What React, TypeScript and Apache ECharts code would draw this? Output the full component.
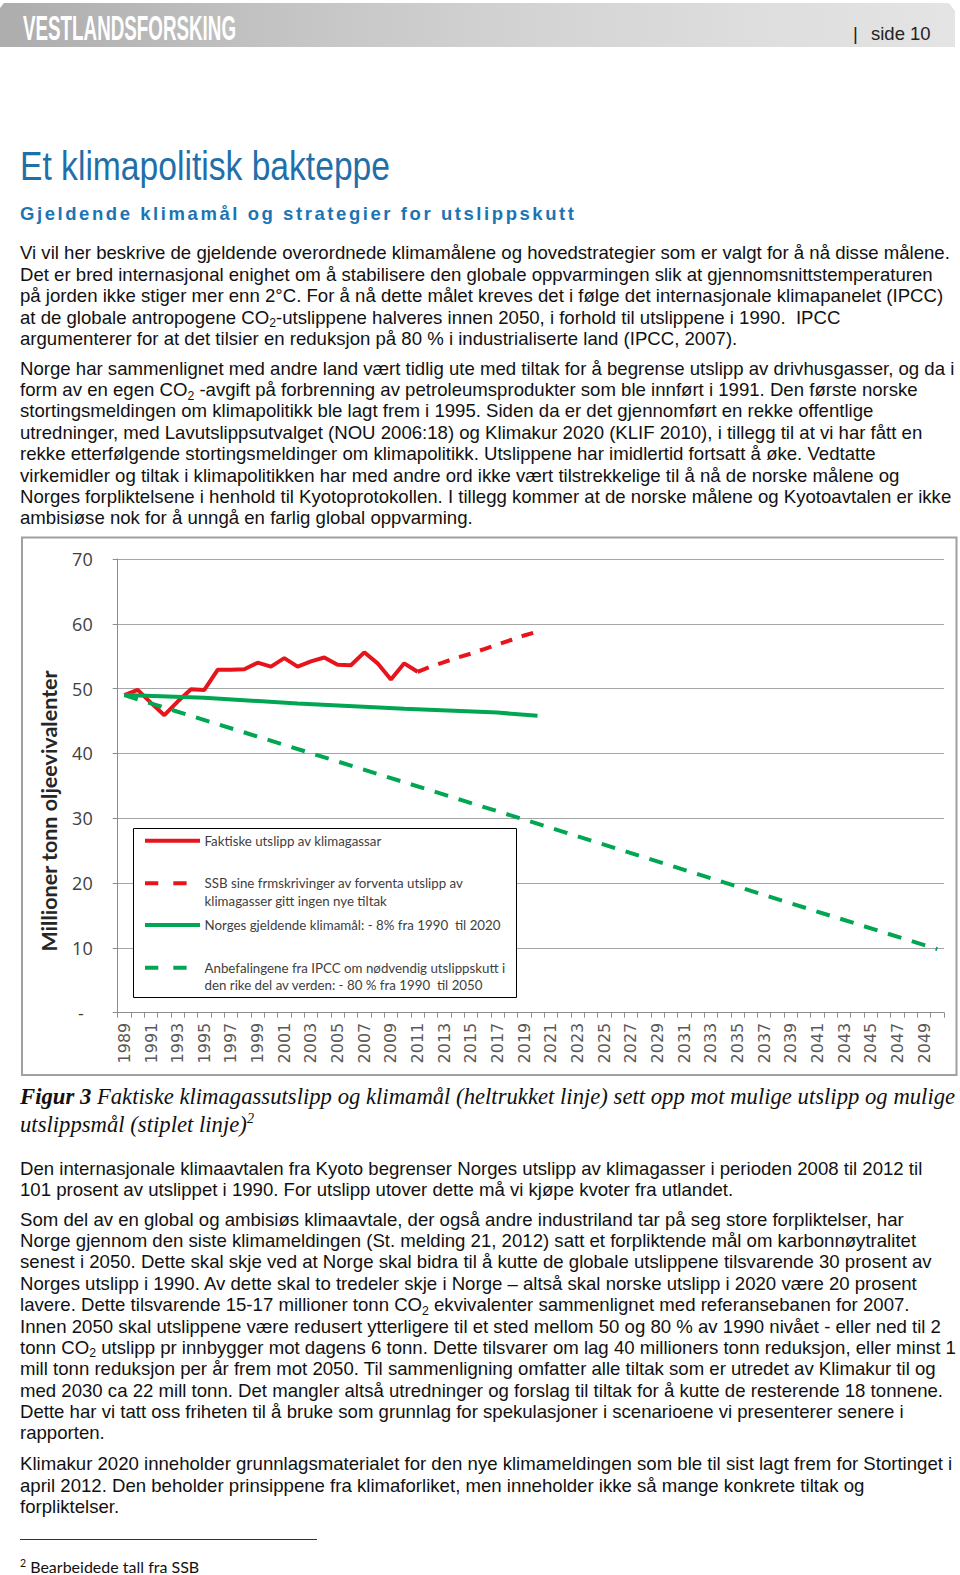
import React, { useEffect, useRef } from "react";
import * as echarts from "echarts";

// ---------- chart data ----------
const years = [
  "1989","1990","1991","1992","1993","1994","1995","1996","1997","1998",
  "1999","2000","2001","2002","2003","2004","2005","2006","2007","2008",
  "2009","2010","2011","2012","2013","2014","2015","2016","2017","2018",
  "2019","2020","2021","2022","2023","2024","2025","2026","2027","2028",
  "2029","2030","2031","2032","2033","2034","2035","2036","2037","2038",
  "2039","2040","2041","2042","2043","2044","2045","2046","2047","2048",
  "2049","2050",
];
// Faktiske utslipp 1989–2011
const actualYears = [
  "1989","1990","1991","1992","1993","1994","1995","1996","1997","1998",
  "1999","2000","2001","2002","2003","2004","2005","2006","2007","2008",
  "2009","2010","2011",
];
const actualValues = [
  49.0, 49.8, 47.8, 45.9, 48.0, 49.9, 49.8, 52.9, 52.9, 53.0,
  54.0, 53.4, 54.7, 53.4, 54.2, 54.8, 53.7, 53.6, 55.6, 53.9,
  51.4, 53.9, 52.6,
];
// SSB framskriving 2011–2020
const ssbYears = ["2011","2012","2013","2014","2015","2016","2017","2018","2019","2020"];
const ssbValues = [52.6, 53.4, 54.1, 54.8, 55.4, 56.1, 56.8, 57.5, 58.2, 58.8];
// Norges gjeldende klimamål
const targetYears = ["1989","1995","2002","2010","2017","2020"];
const targetValues = [49.0, 48.6, 47.7, 46.9, 46.3, 45.8];
// IPCC-anbefaling
const ipccYears = ["1989","2019","2034","2050"];
const ipccValues = [49.0, 29.8, 20.1, 9.8];

const yTicks = { min: 0, max: 70, interval: 10 };

const legendLabels = [
  ["Faktiske utslipp av klimagassar"],
  ["SSB sine frmskrivinger av forventa utslipp av", "klimagasser gitt ingen nye tiltak"],
  ["Norges gjeldende klimamål: - 8% fra 1990  til 2020"],
  ["Anbefalingene fra IPCC om nødvendig utslippskutt i", "den rike del av verden: - 80 % fra 1990  til 2050"],
];
const yAxisTitle = "Millioner tonn oljeevivalenter";

const RED = "#e8141c";
const GREEN = "#00a651";

function toSeries(ys: string[], vs: number[]) {
  return years.map((y) => {
    const i = ys.indexOf(y);
    return i >= 0 ? vs[i] : null;
  });
}

// ---------- page text ----------
const P1 = [
  "Vi vil her beskrive de gjeldende overordnede klimamålene og hovedstrategier som er valgt for å nå disse målene.",
  "Det er bred internasjonal enighet om å stabilisere den globale oppvarmingen slik at gjennomsnittstemperaturen",
  "på jorden ikke stiger mer enn 2°C. For å nå dette målet kreves det i følge det internasjonale klimapanelet (IPCC)",
  "at de globale antropogene CO2-utslippene halveres innen 2050, i forhold til utslippene i 1990.  IPCC",
  "argumenterer for at det tilsier en reduksjon på 80 % i industrialiserte land (IPCC, 2007).",
];
const P2 = [
  "Norge har sammenlignet med andre land vært tidlig ute med tiltak for å begrense utslipp av drivhusgasser, og da i",
  "form av en egen CO2 -avgift på forbrenning av petroleumsprodukter som ble innført i 1991. Den første norske",
  "stortingsmeldingen om klimapolitikk ble lagt frem i 1995. Siden da er det gjennomført en rekke offentlige",
  "utredninger, med Lavutslippsutvalget (NOU 2006:18) og Klimakur 2020 (KLIF 2010), i tillegg til at vi har fått en",
  "rekke etterfølgende stortingsmeldinger om klimapolitikk. Utslippene har imidlertid fortsatt å øke. Vedtatte",
  "virkemidler og tiltak i klimapolitikken har med andre ord ikke vært tilstrekkelige til å nå de norske målene og",
  "Norges forpliktelsene i henhold til Kyotoprotokollen. I tillegg kommer at de norske målene og Kyotoavtalen er ikke",
  "ambisiøse nok for å unngå en farlig global oppvarming.",
];
const P3 = [
  "Den internasjonale klimaavtalen fra Kyoto begrenser Norges utslipp av klimagasser i perioden 2008 til 2012 til",
  "101 prosent av utslippet i 1990. For utslipp utover dette må vi kjøpe kvoter fra utlandet.",
];
const P4 = [
  "Som del av en global og ambisiøs klimaavtale, der også andre industriland tar på seg store forpliktelser, har",
  "Norge gjennom den siste klimameldingen (St. melding 21, 2012) satt et forpliktende mål om karbonnøytralitet",
  "senest i 2050. Dette skal skje ved at Norge skal bidra til å kutte de globale utslippene tilsvarende 30 prosent av",
  "Norges utslipp i 1990. Av dette skal to tredeler skje i Norge – altså skal norske utslipp i 2020 være 20 prosent",
  "lavere. Dette tilsvarende 15-17 millioner tonn CO2 ekvivalenter sammenlignet med referansebanen for 2007.",
  "Innen 2050 skal utslippene være redusert ytterligere til et sted mellom 50 og 80 % av 1990 nivået - eller ned til 2",
  "tonn CO2 utslipp pr innbygger mot dagens 6 tonn. Dette tilsvarer om lag 40 millioners tonn reduksjon, eller minst 1",
  "mill tonn reduksjon per år frem mot 2050. Til sammenligning omfatter alle tiltak som er utredet av Klimakur til og",
  "med 2030 ca 22 mill tonn. Det mangler altså utredninger og forslag til tiltak for å kutte de resterende 18 tonnene.",
  "Dette har vi tatt oss friheten til å bruke som grunnlag for spekulasjoner i scenarioene vi presenterer senere i",
  "rapporten.",
];
const P5 = [
  "Klimakur 2020 inneholder grunnlagsmaterialet for den nye klimameldingen som ble til sist lagt frem for Stortinget i",
  "april 2012. Den beholder prinsippene fra klimaforliket, men inneholder ikke så mange konkrete tiltak og",
  "forpliktelser.",
];

const BODY_FS = 18.6;
const STEP = 21.35;
const SANS = "'Liberation Sans', Arial, sans-serif";
const SERIF = "'Liberation Serif', 'Times New Roman', serif";
const CAP_FS = 22.7;

function Rich({ text }: { text: string }) {
  const parts = text.split("CO2");
  return (
    <>
      {parts.map((p, i) => (
        <React.Fragment key={i}>
          {p}
          {i < parts.length - 1 && (
            <>
              CO
              <span style={{ fontSize: "0.66em", position: "relative", top: "0.28em" }}>2</span>
            </>
          )}
        </React.Fragment>
      ))}
    </>
  );
}

function Lines({ lines, first }: { lines: string[]; first: number }) {
  return (
    <>
      {lines.map((t, i) => (
        <div
          key={i}
          style={{
            position: "absolute",
            left: 20,
            top: first + i * STEP - 0.8465 * BODY_FS,
            fontSize: BODY_FS,
            lineHeight: BODY_FS + "px",
            fontFamily: SANS,
            whiteSpace: "pre",
            color: "#111",
          }}
        >
          <Rich text={t} />
        </div>
      ))}
    </>
  );
}

const CH_TOP = 530;
const CH_H = 550;

function Chart() {
  const ref = useRef<HTMLDivElement>(null);
  useEffect(() => {
    if (!ref.current) return;
    const chart = echarts.init(ref.current, undefined, { renderer: "svg" });
    const legendFont = { fontSize: 13.3, fontFamily: "Lato", fill: "#404040" };
    const legendEls: any[] = [
      {
        type: "rect",
        z: 50,
        shape: { x: 133.5, y: 298.5, width: 383, height: 169 },
        style: { fill: "#fff", stroke: "#000", lineWidth: 1 },
      },
    ];
    const rows = [
      { y: 310.7, color: RED, dashed: false },
      { y: 353.3, color: RED, dashed: true },
      { y: 395, color: GREEN, dashed: false },
      { y: 437.7, color: GREEN, dashed: true },
    ];
    rows.forEach((r, i) => {
      legendEls.push({
        type: "line",
        z: 51,
        shape: { x1: 145, y1: r.y, x2: r.dashed ? 187 : 200, y2: r.y },
        style: { stroke: r.color, lineWidth: 4, lineDash: r.dashed ? [13.3, 15] : null },
      });
      legendLabels[i].forEach((t, j) => {
        legendEls.push({
          type: "text",
          z: 51,
          x: 204.5,
          y: r.y + j * 17.5,
          style: { text: t, ...legendFont, verticalAlign: "middle", align: "left" },
        });
      });
    });

    const lineBase = { type: "line", symbol: "none", connectNulls: true, smooth: false };
    chart.setOption({
      animation: false,
      grid: { left: 117.7, right: 16, top: 559 - CH_TOP, bottom: CH_TOP + CH_H - 1012.7 },
      xAxis: {
        type: "category",
        data: years,
        boundaryGap: true,
        axisLine: { lineStyle: { color: "#8c8c8c", width: 1 } },
        axisTick: { show: true, interval: 0, length: 5, lineStyle: { color: "#8c8c8c" } },
        axisLabel: {
          interval: 1,
          rotate: 90,
          fontFamily: "DejaVu Sans",
          fontSize: 16,
          color: "#595959",
          margin: 10,
        },
      },
      yAxis: {
        type: "value",
        ...yTicks,
        axisLine: { show: true, lineStyle: { color: "#8c8c8c", width: 1 } },
        axisTick: { show: true, length: 5, lineStyle: { color: "#8c8c8c" } },
        splitLine: { lineStyle: { color: "#a6a6a6", width: 1 } },
        axisLabel: {
          margin: 25,
          fontFamily: "Open Sans",
          fontSize: 18,
          color: "#404040",
          formatter: (v: number) => (v === 0 ? "{d|-}" : String(v)),
          rich: { d: { fontFamily: "Open Sans", fontSize: 18, color: "#404040", padding: [0, 9, 0, 0] } },
        },
      },
      series: [
        { ...lineBase, name: "Faktiske", data: toSeries(actualYears, actualValues), lineStyle: { color: RED, width: 4 }, z: 3 },
        { ...lineBase, name: "SSB", data: toSeries(ssbYears, ssbValues), lineStyle: { color: RED, width: 4, type: [12, 10] }, z: 3 },
        { ...lineBase, name: "Mål", data: toSeries(targetYears, targetValues), lineStyle: { color: GREEN, width: 4 }, z: 4 },
        { ...lineBase, name: "IPCC", data: toSeries(ipccYears, ipccValues), lineStyle: { color: GREEN, width: 4, type: [14, 11] }, z: 4 },
      ],
      graphic: {
        elements: [
          {
            type: "rect",
            z: 1,
            shape: { x: 22, y: 7.5, width: 934.5, height: 537.5 },
            style: { fill: "none", stroke: "#a0a0a0", lineWidth: 2 },
          },
          {
            type: "text",
            z: 10,
            x: 48.5,
            y: 811 - CH_TOP,
            rotation: Math.PI / 2,
            style: {
              text: yAxisTitle,
              fontSize: 21.5,
              fontWeight: "bold",
              fontFamily: "Lato",
              fill: "#262626",
              align: "center",
              verticalAlign: "middle",
            },
          },
          ...legendEls,
        ],
      },
    });
    return () => chart.dispose();
  }, []);
  return (
    <div
      ref={ref}
      style={{ position: "absolute", left: 0, top: CH_TOP, width: 960, height: CH_H }}
    />
  );
}

export default function App() {
  const capStyle: React.CSSProperties = {
    position: "absolute",
    left: 20,
    fontFamily: SERIF,
    fontStyle: "italic",
    fontSize: CAP_FS,
    lineHeight: CAP_FS + "px",
    whiteSpace: "pre",
    color: "#111",
  };
  return (
    <div
      style={{
        position: "absolute",
        left: 0,
        top: 0,
        width: 960,
        height: 1575,
        overflow: "hidden",
        background: "#fff",
      }}
    >
      {/* header band */}
      <div
        style={{
          position: "absolute",
          left: 0,
          top: 3,
          width: 955,
          height: 44,
          background: "linear-gradient(90deg, #adadad 0%, #c4c4c4 30%, #d3d3d3 55%, #dedede 80%, #e4e4e4 100%)",
          clipPath: "polygon(4px 0, calc(100% - 6px) 0, 100% 8px, 100% 100%, 0 100%, 0 5px)",
        }}
      />
      <svg width={960} height={240} style={{ position: "absolute", left: 0, top: 0 }}>
        <text
          x={23}
          y={39.5}
          textLength={213}
          lengthAdjust="spacingAndGlyphs"
          fontFamily={SANS}
          fontWeight="bold"
          fontSize={35}
          fill="#ffffff"
        >
          VESTLANDSFORSKING
        </text>
        <text x={853} y={39.5} fontFamily={SANS} fontSize={18.5} fill="#222">|</text>
        <text x={871} y={39.5} fontFamily={SANS} fontSize={18.5} fill="#222">side 10</text>
        <text
          x={20}
          y={180}
          textLength={370}
          lengthAdjust="spacingAndGlyphs"
          fontFamily={"'Liberation Sans Narrow', " + SANS}
          fontSize={40}
          fill="#1f70aa"
        >
          Et klimapolitisk bakteppe
        </text>
        <text
          x={20}
          y={220}
          textLength={554}
          lengthAdjust="spacing"
          fontFamily={SANS}
          fontWeight="bold"
          fontSize={18.5}
          fill="#1c74b5"
        >
          Gjeldende klimamål og strategier for utslippskutt
        </text>
      </svg>

      <Lines lines={P1} first={260.2} />
      <Lines lines={P2} first={375.5} />

      <Chart />

      {/* caption */}
      <div style={{ ...capStyle, top: 1105.5 - 0.8375 * CAP_FS }}>
        <b>Figur 3</b> Faktiske klimagassutslipp og klimamål (heltrukket linje) sett opp mot mulige utslipp og mulige
      </div>
      <div style={{ ...capStyle, top: 1133 - 0.8375 * CAP_FS }}>
        utslippsmål (stiplet linje)
        <span style={{ fontSize: "0.62em", position: "relative", top: "-0.65em" }}>2</span>
      </div>

      <Lines lines={P3} first={1175.5} />
      <Lines lines={P4} first={1226.5} />
      <Lines lines={P5} first={1471} />

      {/* footnote */}
      <div style={{ position: "absolute", left: 20, top: 1538.5, width: 297, height: 1, background: "#333" }} />
      <div
        style={{
          position: "absolute",
          left: 20,
          top: 1558,
          fontFamily: "Lato, 'Open Sans', sans-serif",
          fontSize: 16,
          lineHeight: "18px",
          whiteSpace: "pre",
          color: "#111",
        }}
      >
        <span style={{ fontSize: 10.5, position: "relative", top: -6 }}>2</span> Bearbeidede tall fra SSB
      </div>
    </div>
  );
}
